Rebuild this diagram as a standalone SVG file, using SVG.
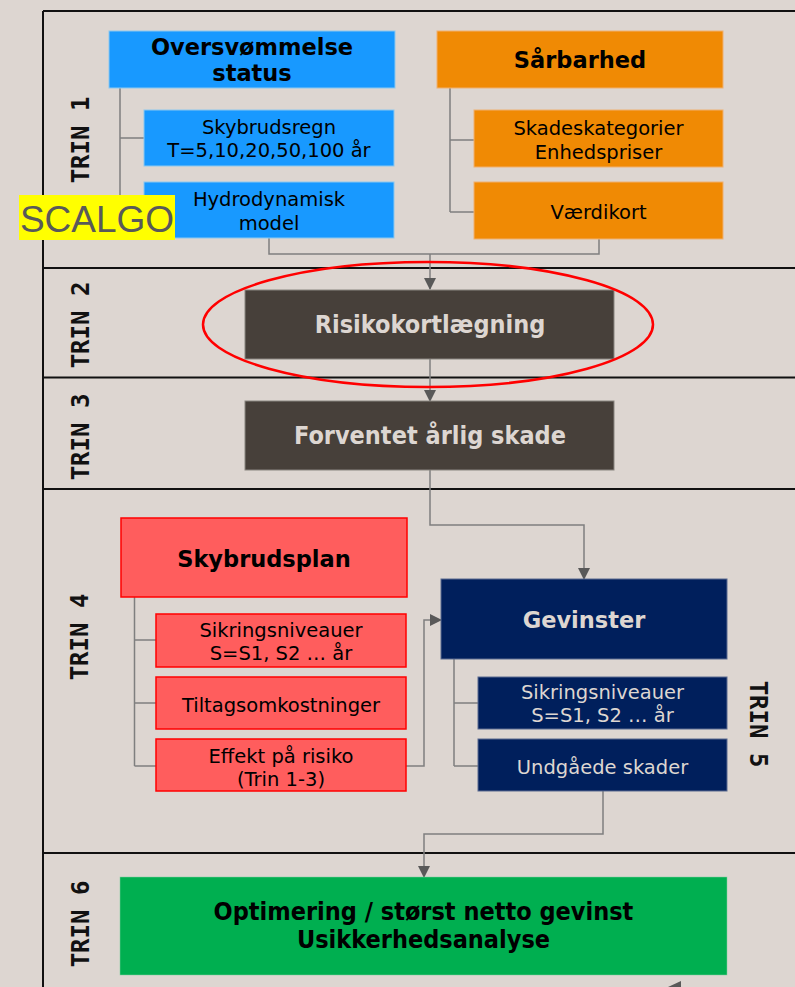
<svg xmlns="http://www.w3.org/2000/svg" width="795" height="987" viewBox="0 0 795 987">
<style>
.sec{fill:none;stroke:#111;stroke-width:2}
.con{fill:none;stroke:#7f7f7f;stroke-width:1.5}
.trin{font-family:"DejaVu Sans Mono","Liberation Mono",monospace;font-weight:bold;font-size:24px;fill:#111;text-anchor:middle}
.t{font-family:"DejaVu Sans","Verdana",sans-serif;font-size:19.5px;text-anchor:middle}
.tb{font-family:"DejaVu Sans","Verdana",sans-serif;font-size:22.5px;font-weight:bold;text-anchor:middle}
.tc{font-family:"DejaVu Sans Condensed","DejaVu Sans",sans-serif;font-stretch:condensed;font-size:25px;font-weight:bold;text-anchor:middle}
.blue{fill:#1899ff;stroke:#8cc8f0;stroke-width:1}
.orange{fill:#f08a04;stroke:#f0b070;stroke-width:1}
.dark{fill:#47403a;stroke:#8a8580;stroke-width:1}
.red{fill:#ff5d5d;stroke:#ff0000;stroke-width:1.5}
.navy{fill:#001f5c;stroke:#5a6a90;stroke-width:1}
.green{fill:#00af50;stroke:#80d0a0;stroke-width:0.5}
</style>
<defs>
<marker id="arr" markerUnits="userSpaceOnUse" markerWidth="12" markerHeight="12" viewBox="0 0 12 12" refX="11" refY="6" orient="auto">
<path d="M0,0 L12,6 L0,12 Z" fill="#595959"/>
</marker>
</defs>
<rect width="795" height="987" fill="#ddd6d1"/>
<g id="frame">
<path class="sec" d="M43,11 H800 M43,11 V990 M43,268 H800 M43,377.5 H800 M43,489 H800 M43,853 H800"/>
</g>
<g id="trin-labels">
<text class="trin" transform="translate(80,140) rotate(-90)" x="0" y="8.7">TRIN 1</text>
<text class="trin" transform="translate(80,325) rotate(-90)" x="0" y="8.7">TRIN 2</text>
<text class="trin" transform="translate(80,437) rotate(-90)" x="0" y="8.7">TRIN 3</text>
<text class="trin" transform="translate(79,637) rotate(-90)" x="0" y="8.7">TRIN 4</text>
<text class="trin" transform="translate(759,724) rotate(90)" x="0" y="8.7">TRIN 5</text>
<text class="trin" transform="translate(80,924) rotate(-90)" x="0" y="8.7">TRIN 6</text>
</g>
<g id="connectors">
<path class="con" d="M120,88 V210 M120,138 H144 M120,210 H144"/>
<path class="con" d="M450,88 V212 M450,140 H474 M450,212 H474"/>
<path class="con" d="M269,238 V254 H599 V239"/>
<path class="con" d="M430,254 V289" marker-end="url(#arr)"/>
<path class="con" d="M430,359 V401" marker-end="url(#arr)"/>
<path class="con" d="M430,470 V525 H584 V579" marker-end="url(#arr)"/>
<path class="con" d="M134.5,597 V766 M134.5,640 H156 M134.5,703 H156 M134.5,766 H156"/>
<path class="con" d="M406,766 H424 V620 H441" marker-end="url(#arr)"/>
<path class="con" d="M454,659 V766 M454,703 H478 M454,766 H478"/>
<path class="con" d="M603,791 V834 H424 V877" marker-end="url(#arr)"/>
<path d="M668,987 L681,981 L681,987 Z" fill="#595959"/>
</g>
<g id="oversvommelse">
<rect class="blue" x="109" y="31" width="286" height="57"/>
<text class="tb" x="252" y="54.5">Oversvømmelse</text>
<text class="tb" x="252" y="81">status</text>
</g>
<g id="skybrudsregn">
<rect class="blue" x="144" y="110" width="250" height="56"/>
<text class="t" x="269" y="134">Skybrudsregn</text>
<text class="t" x="269" y="156.5">T=5,10,20,50,100 år</text>
</g>
<g id="hydrodynamisk">
<rect class="blue" x="144" y="182" width="250" height="56"/>
<text class="t" x="269" y="206">Hydrodynamisk</text>
<text class="t" x="269" y="230">model</text>
</g>
<g id="sarbarhed">
<rect class="orange" x="437" y="31" width="286" height="57"/>
<text class="tb" x="580" y="68">Sårbarhed</text>
</g>
<g id="skadeskategorier">
<rect class="orange" x="474" y="110" width="249" height="57"/>
<text class="t" x="598.5" y="135">Skadeskategorier</text>
<text class="t" x="598.5" y="158.5">Enhedspriser</text>
</g>
<g id="vaerdikort">
<rect class="orange" x="474" y="182" width="249" height="57"/>
<text class="t" x="598.5" y="219">Værdikort</text>
</g>
<g id="scalgo">
<rect x="19" y="195" width="156" height="45" fill="#ffff00"/>
<text x="97" y="232" font-family="Liberation Sans, Arial, sans-serif" font-size="37" fill="#595959" text-anchor="middle">SCALGO</text>
</g>
<g id="risikokortlaegning">
<rect class="dark" x="245" y="290" width="369" height="69"/>
<text class="tc" x="430" y="333" fill="#ddd6d1">Risikokortlægning</text>
</g>
<g id="forventet">
<rect class="dark" x="245" y="401" width="369" height="69"/>
<text class="tc" x="430" y="443.5" fill="#ddd6d1">Forventet årlig skade</text>
</g>
<g id="skybrudsplan">
<rect class="red" x="121" y="518" width="286" height="79"/>
<text class="tb" x="264" y="567">Skybrudsplan</text>
</g>
<g id="sikring-red">
<rect class="red" x="156" y="614" width="250" height="53"/>
<text class="t" x="281" y="637">Sikringsniveauer</text>
<text class="t" x="281" y="660">S=S1, S2 … år</text>
</g>
<g id="tiltag">
<rect class="red" x="156" y="677" width="250" height="52"/>
<text class="t" x="281" y="712">Tiltagsomkostninger</text>
</g>
<g id="effekt">
<rect class="red" x="156" y="739" width="250" height="52"/>
<text class="t" x="281" y="763">Effekt på risiko</text>
<text class="t" x="281" y="786">(Trin 1-3)</text>
</g>
<g id="gevinster">
<rect class="navy" x="441" y="579" width="286" height="80"/>
<text class="tb" x="584" y="627.5" fill="#ddd6d1">Gevinster</text>
</g>
<g id="sikring-navy">
<rect class="navy" x="478" y="677" width="249" height="52"/>
<text class="t" x="602.5" y="699" fill="#ddd6d1">Sikringsniveauer</text>
<text class="t" x="602.5" y="722" fill="#ddd6d1">S=S1, S2 … år</text>
</g>
<g id="undgaede">
<rect class="navy" x="478" y="739" width="249" height="52"/>
<text class="t" x="602.5" y="773.5" fill="#ddd6d1">Undgåede skader</text>
</g>
<g id="optimering">
<rect class="green" x="120" y="877" width="607" height="98"/>
<text class="tc" x="423.5" y="919.5" font-size="24">Optimering / størst netto gevinst</text>
<text class="tc" x="423.5" y="947.5" font-size="24">Usikkerhedsanalyse</text>
</g>
<g id="highlight">
<ellipse cx="428" cy="324.5" rx="225" ry="62.5" fill="none" stroke="#ff0000" stroke-width="2.5"/>
</g>
</svg>
